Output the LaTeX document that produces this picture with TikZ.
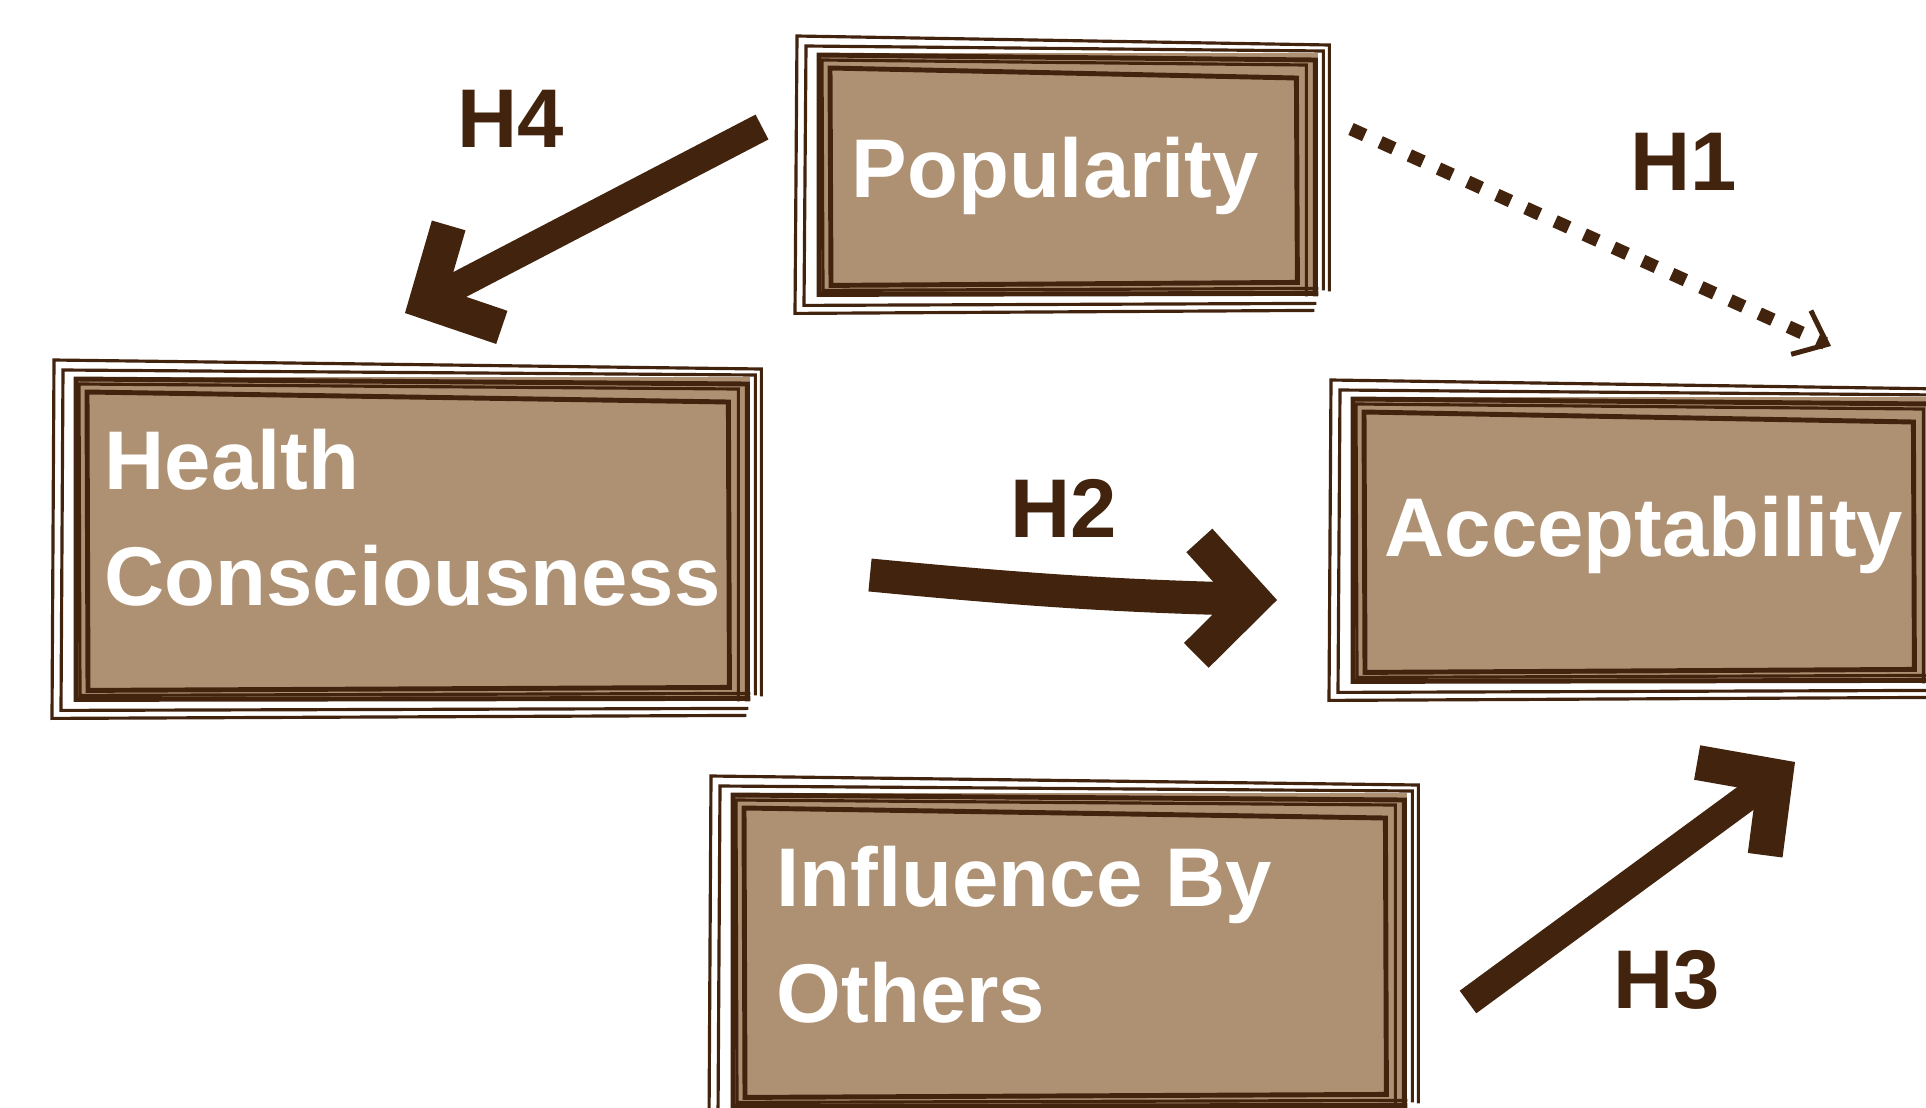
\documentclass[tikz,border=0pt]{standalone}
\usepackage{fontspec}
\setmainfont{Liberation Sans}
\usetikzlibrary{calc,arrows.meta}

\definecolor{ink}{RGB}{66,36,14}
\definecolor{boxfill}{RGB}{174,145,115}

\tikzset{
  factor/.style={fill=boxfill, inner sep=0pt, anchor=north west},
  name text/.style={text=white, font=\bfseries\fontsize{23.7}{33}\selectfont,
    inner sep=0pt, anchor=base west, align=left},
  hyp/.style={text=ink, font=\bfseries\fontsize{23.7}{33}\selectfont,
    inner sep=0pt, anchor=base west},
  frame thin/.style={draw=ink, line width=0.9pt},
  frame thick/.style={draw=ink, line width=1.4pt},
  brush/.style={draw=ink, line width=2.8mm,
    -{Straight Barb[length=5.5mm,width=11.5mm,line width=3.5mm]}},
  dots/.style={draw=ink, line width=1.3mm, dash pattern=on 1.5mm off 1.7mm,
    -{Straight Barb[length=2.9mm,width=4.8mm,line width=0.5mm]}}
}

% hand drawn frame: two lines outside the fill, three inside
\newcommand\sketchframe[1]{
  \draw[frame thin] ($(#1.south east)+(-4,14)$) -- ($(#1.south west)+(-22,17)$)
    -- ($(#1.north west)+(-20,-16)$) -- ($(#1.north east)+(11,-7)$)
    -- ($(#1.south east)+(11,-5)$);
  \draw[frame thin] ($(#1.south east)+(-2,7)$) -- ($(#1.south west)+(-13,9)$)
    -- ($(#1.north west)+(-11,-6)$) -- ($(#1.north east)+(5,-1)$)
    -- ($(#1.south east)+(5,-6)$);
  \draw[frame thick] ($(#1.south east)+(0,-3)$) -- ($(#1.south west)+(2,-2)$)
    -- ($(#1.north west)+(2,3)$) -- ($(#1.north east)+(-3,8)$)
    -- ($(#1.south east)+(-3,0)$);
  \draw[frame thin] ($(#1.south east)+(0,-8)$) -- ($(#1.south west)+(6,-6)$)
    -- ($(#1.north west)+(5,8)$) -- ($(#1.north east)+(-12,13)$)
    -- ($(#1.south east)+(-12,0)$);
  \draw[frame thick] ($(#1.south east)+(-21,-14)$) -- ($(#1.south west)+(14,-11)$)
    -- ($(#1.north west)+(13,16)$) -- ($(#1.north east)+(-22,26)$) -- cycle;
}

\begin{document}
\begin{tikzpicture}[x=0.1mm, y=-0.1mm]
  \useasboundingbox (0,0) rectangle (1926,1107);

  % boxes
  \node[factor, minimum width=50mm, minimum height=24.3mm] (pop) at (817,52) {};
  \node[factor, minimum width=67.5mm, minimum height=32.4mm] (hc) at (74,376) {};
  \node[factor, minimum width=58.3mm, minimum height=28.6mm] (acc) at (1351,396) {};
  \node[factor, minimum width=67.5mm, minimum height=31.5mm] (ibo) at (731,792) {};
  \sketchframe{pop}
  \sketchframe{hc}
  \sketchframe{acc}
  \sketchframe{ibo}

  % base is the last line
  \node[name text] (poptext) at (851,197) {Popularity};
  \node[name text] (hctext) at (104,605) {Health\\Consciousness};
  \node[name text] (acctext) at (1384,556) {Acceptability};
  \node[name text] (ibotext) at (776,1022) {Influence By\\Others};

  % hypotheses
  \node[hyp] (h1) at (1630,190) {H1};
  \node[hyp] (h2) at (1010,537) {H2};
  \node[hyp] (h3) at (1613,1008) {H3};
  \node[hyp] (h4) at (457,147) {H4};

  \coordinate (h1a) at (1351,129);
  \coordinate (h1b) at (1831,346);
  \coordinate (h2a) at (870,575);
  \coordinate (h2b) at (1277,600);
  \coordinate (h3a) at (1468,1002);
  \coordinate (h3b) at (1795,762);
  \coordinate (h4a) at (762,127);
  \coordinate (h4b) at (405,313);

  \draw[dots] (h1a) -- (h1b);
  \draw[brush, line width=3.3mm] (h2a) to[bend right=2] (h2b);
  \draw[brush] (h3a) -- (h3b);
  \draw[brush] (h4a) -- (h4b);
\end{tikzpicture}
\end{document}
